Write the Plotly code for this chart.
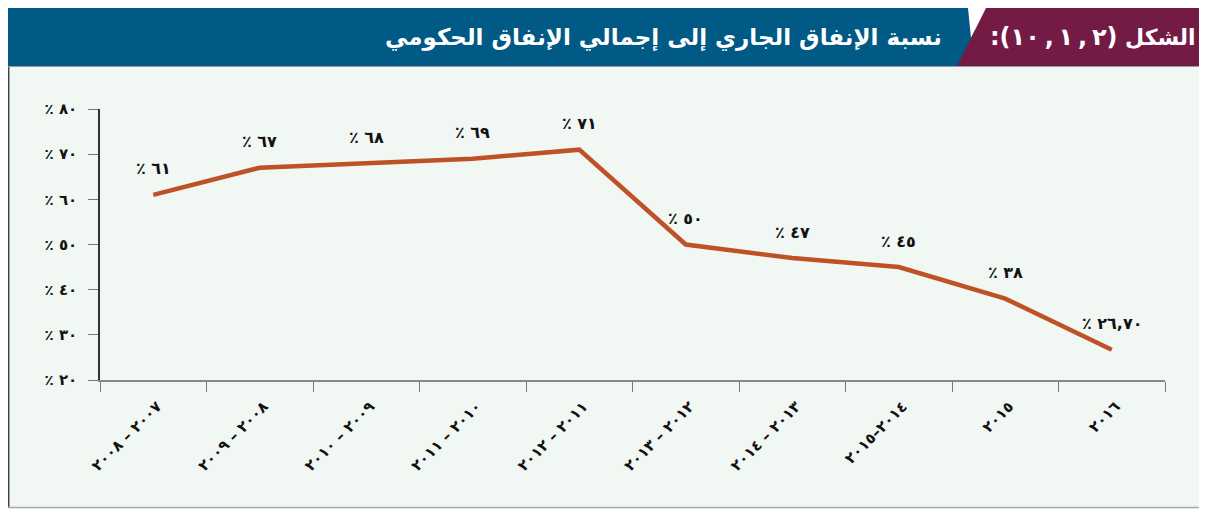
import plotly.graph_objects as go

LRO, PDF = "\u202D", "\u202C"
THIN = "\u2009"

# ---- data ----
categories = ["٢٠٠٨ – ٢٠٠٧", "٢٠٠٩ – ٢٠٠٨", "٢٠١٠ – ٢٠٠٩", "٢٠١١ – ٢٠١٠", "٢٠١٢ – ٢٠١١",
              "٢٠١٣ – ٢٠١٢", "٢٠١٤ – ٢٠١٣", "٢٠١٥–٢٠١٤", "٢٠١٥", "٢٠١٦"]
values = [61, 67, 68, 69, 71, 50, 47, 45, 38, 26.7]
value_labels = ["٪ ٦١", "٪ ٦٧", "٪ ٦٨", "٪ ٦٩", "٪ ٧١", "٪ ٥٠", "٪ ٤٧", "٪ ٤٥", "٪ ٣٨", "٪ ٢٦,٧٠"]
y_tickvals = [20, 30, 40, 50, 60, 70, 80]
y_ticktext = ["٪ ٢٠", "٪ ٣٠", "٪ ٤٠", "٪ ٥٠", "٪ ٦٠", "٪ ٧٠", "٪ ٨٠"]
title_text = "نسبة الإنفاق الجاري إلى إجمالي الإنفاق الحكومي"
figure_word = "الشكل"
figure_number = ":(١٠" + THIN + "," + THIN + "١" + THIN + "," + THIN + "٢)"

def ltr(s):
    # keep the visual left-to-right order exactly as written
    return LRO + s + PDF

# page has an 8px body margin; work in reference pixel coords and shift
OFF = 8
W, H = 1207 - OFF, 509 - OFF
L, R, T, B = 100 - OFF, 1165 - OFF, 109 - OFF, 380 - OFF

def px(x):
    return (max(x - OFF, 0) - L) / (R - L)

def py(y):
    return (B - max(y - OFF, 0)) / (B - T)

ARFONT = "DejaVu Sans"
LINE_COLOR = "#BF5127"
PANEL = "#F1F7F2"

fig = go.Figure()
fig.add_trace(go.Scatter(
    x=[ltr(c) for c in categories], y=values, mode="lines",
    line=dict(color=LINE_COLOR, width=4.5),
    hoverinfo="skip", showlegend=False,
))

for c, v, t in zip(categories, values, value_labels):
    fig.add_annotation(x=ltr(c), y=v, text=ltr(t), showarrow=False, yshift=26,
                       font=dict(family=ARFONT, size=16, color="#111", weight="bold"))

shapes = [
    dict(type="rect", xref="paper", yref="paper", x0=px(6), x1=px(1207), y0=py(509), y1=py(66),
         fillcolor=PANEL, line=dict(width=0), layer="below"),
    dict(type="line", xref="paper", yref="paper", x0=px(8.7), x1=px(8.7), y0=py(507), y1=py(66),
         line=dict(color="#444", width=1.5), layer="above"),
    dict(type="line", xref="paper", yref="paper", x0=px(6), x1=px(1207), y0=py(507.5), y1=py(507.5),
         line=dict(color="#AAAAAA", width=1.5), layer="above"),
    dict(type="line", xref="paper", yref="paper", x0=px(6), x1=px(1207), y0=py(66.5), y1=py(66.5),
         line=dict(color="#9A9A9A", width=1.2), layer="above"),
    dict(type="path", xref="paper", yref="paper",
         path=f"M {px(6)},{py(8)} L {px(975)},{py(8)} L {px(975)},{py(66)} L {px(6)},{py(66)} Z",
         fillcolor="#005A85", line=dict(width=0), layer="above"),
    dict(type="path", xref="paper", yref="paper",
         path=f"M {px(968)},{py(8)} L {px(986)},{py(8)} L {px(971)},{py(38)} Z",
         fillcolor="#FFFFFF", line=dict(width=0), layer="above"),
    dict(type="path", xref="paper", yref="paper",
         path=f"M {px(986)},{py(8)} L {px(1207)},{py(8)} L {px(1207)},{py(66)} L {px(957)},{py(66)} Z",
         fillcolor="#731A45", line=dict(width=0), layer="above"),
]

fig.add_annotation(xref="paper", yref="paper", x=px(944), y=py(37), xanchor="right", yanchor="middle",
                   text=title_text, showarrow=False,
                   font=dict(family=ARFONT, size=23, color="white", weight="bold"))
fig.add_annotation(xref="paper", yref="paper", x=px(1198), y=py(37), xanchor="right", yanchor="middle",
                   text=figure_word, showarrow=False,
                   font=dict(family=ARFONT, size=22, color="white", weight="bold"))
fig.add_annotation(xref="paper", yref="paper", x=px(1120), y=py(37), xanchor="right", yanchor="middle",
                   text=ltr(figure_number), showarrow=False,
                   font=dict(family=ARFONT, size=24, color="white", weight="bold"))

fig.update_layout(
    width=W, height=H,
    margin=dict(l=L, r=W - R, t=T, b=H - B, pad=0),
    paper_bgcolor="white",
    plot_bgcolor="rgba(0,0,0,0)",
    shapes=shapes,
    showlegend=False,
    xaxis=dict(type="category", tickson="boundaries", ticks="outside", ticklen=10,
               tickcolor="#777", tickwidth=1.2, showline=True, linecolor="#888", linewidth=1.5,
               showgrid=False, zeroline=False, tickangle=-45,
               ticklabelstandoff=10, ticklabelshift=4,
               tickfont=dict(family=ARFONT, size=15, color="#111", weight="bold"),
               range=[-0.5, 9.5]),
    yaxis=dict(range=[20, 80], tickvals=y_tickvals, ticktext=[ltr(t) for t in y_ticktext],
               ticks="outside", ticklen=10, tickcolor="#777", tickwidth=1.2, showline=True,
               linecolor="#333", linewidth=1.5, showgrid=False, zeroline=False,
               ticklabelstandoff=8,
               tickfont=dict(family=ARFONT, size=15, color="#111", weight="bold")),
)

fig.write_html("out.html")
